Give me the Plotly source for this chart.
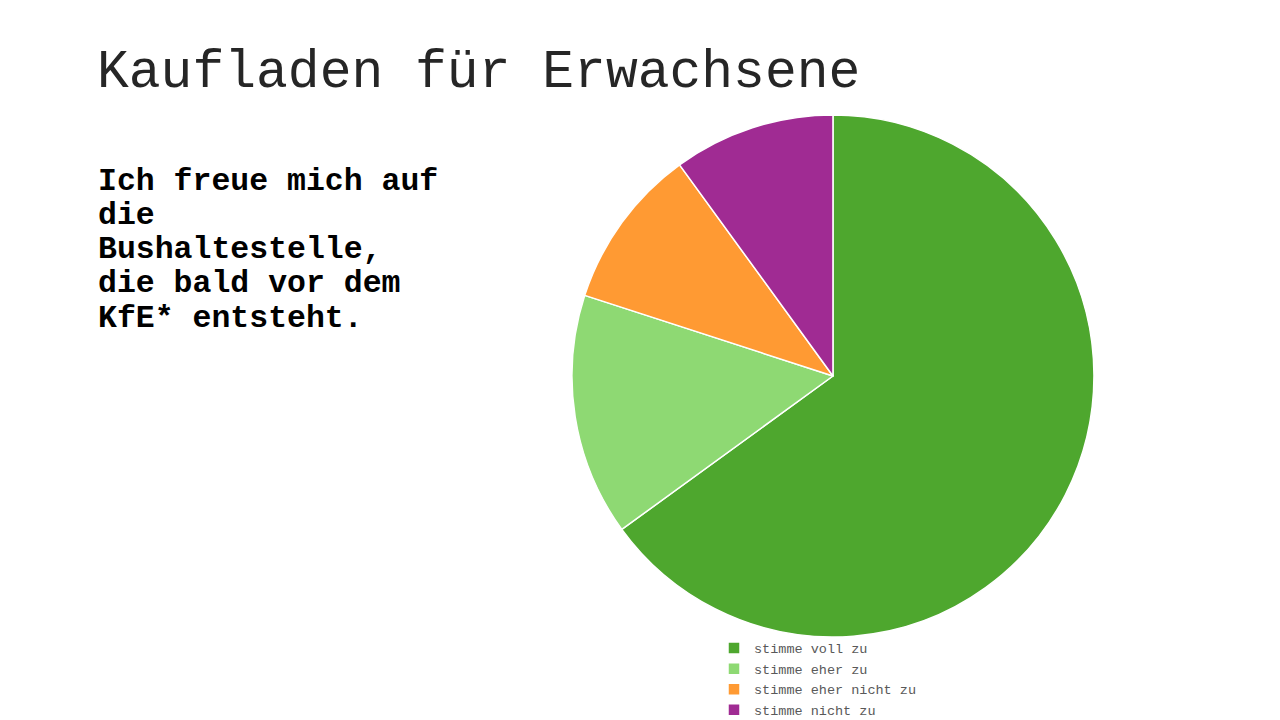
import plotly.graph_objects as go

# Daten
CATEGORIES = ["stimme voll zu", "stimme eher zu", "stimme eher nicht zu", "stimme nicht zu"]
VALUES = [65, 15, 10, 10]
COLORS = ["#4EA72E", "#8ED973", "#FF9A33", "#A02B93"]

TITLE = "Kaufladen für Erwachsene"
QUESTION_LINES = [
    "Ich freue mich auf",
    "die",
    "Bushaltestelle,",
    "die bald vor dem",
    "KfE* entsteht.",
]

_FONT = "Liberation Mono, Courier New, monospace"

fig = go.Figure()

fig.add_trace(go.Pie(
    labels=CATEGORIES,
    values=VALUES,
    sort=False,
    direction="clockwise",
    rotation=0,
    textinfo="none",
    marker=dict(colors=COLORS, line=dict(color="white", width=1.5)),
    domain=dict(x=[0.3945, 0.8945], y=[0.1264, 0.8514]),
    hovertemplate="%{label}: %{value}%<extra></extra>",
))

# Fragetext links, Zeile für Zeile (engerer Zeilenabstand als Plotly-Standard)
for i, line in enumerate(QUESTION_LINES):
    fig.add_annotation(
        text=line,
        xref="paper", yref="paper",
        x=88 / 1280, y=1 - (173 + i * 34.3) / 720,
        xanchor="left", yanchor="middle",
        showarrow=False,
        font=dict(family=_FONT, size=31.5, color="black", weight="bold"),
    )

fig.update_layout(
    title=dict(
        text=TITLE,
        font=dict(family=_FONT, size=53, color="#262626"),
        x=89 / 1280, xanchor="left",
        y=1 - 60 / 720, yanchor="middle",
        yref="container",
    ),
    legend=dict(
        x=706 / 1280, xanchor="left",
        y=0.003, yanchor="bottom",
        font=dict(family=_FONT, size=13.5, color="#595959"),
        bgcolor="rgba(0,0,0,0)",
        itemwidth=30,
    ),
    paper_bgcolor="white",
    plot_bgcolor="white",
    margin=dict(t=0, b=0, l=0, r=0),
    width=1280,
    height=720,
)

fig.write_html("out.html")
